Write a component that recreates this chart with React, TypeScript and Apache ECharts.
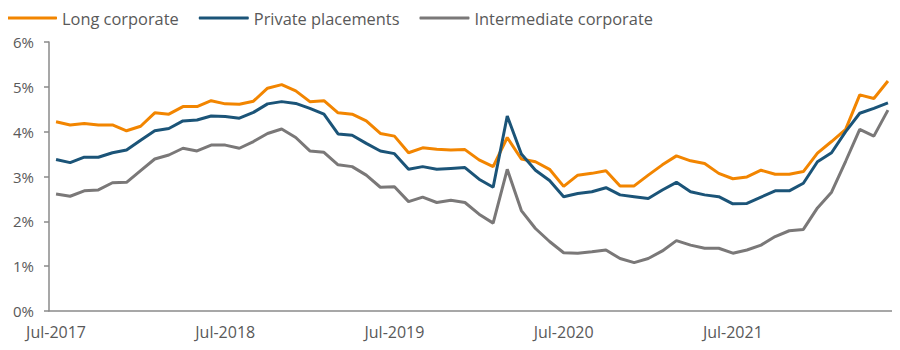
import React, { useEffect, useRef } from "react";
import * as echarts from "echarts";

const MONTHS = ["Jan", "Feb", "Mar", "Apr", "May", "Jun", "Jul", "Aug", "Sep", "Oct", "Nov", "Dec"];
// Monthly categories Jul-2017 .. Jun-2022
const categories: string[] = [];
for (let k = 0; k < 60; k++) {
  const m = (6 + k) % 12;
  const y = 2017 + Math.floor((6 + k) / 12);
  categories.push(`${MONTHS[m]}-${y}`);
}

const longCorporate = [
  4.22, 4.15, 4.18, 4.15, 4.15, 4.02, 4.12, 4.42, 4.39, 4.56, 4.56, 4.69,
  4.62, 4.61, 4.68, 4.97, 5.05, 4.91, 4.67, 4.69, 4.42, 4.39, 4.24, 3.96,
  3.9, 3.53, 3.64, 3.61, 3.59, 3.6, 3.37, 3.22, 3.87, 3.39, 3.33, 3.16,
  2.78, 3.03, 3.07, 3.13, 2.79, 2.79, 3.03, 3.26, 3.46, 3.35, 3.29, 3.07,
  2.95, 2.99, 3.14, 3.05, 3.05, 3.11, 3.52, 3.78, 4.05, 4.82, 4.74, 5.13,
];
const privatePlacements = [
  3.38, 3.31, 3.43, 3.43, 3.53, 3.59, 3.81, 4.02, 4.07, 4.24, 4.26, 4.35,
  4.34, 4.3, 4.43, 4.62, 4.67, 4.63, 4.52, 4.39, 3.95, 3.92, 3.74, 3.57,
  3.51, 3.16, 3.22, 3.16, 3.18, 3.2, 2.94, 2.76, 4.35, 3.5, 3.14, 2.91,
  2.55, 2.62, 2.66, 2.75, 2.59, 2.55, 2.51, 2.7, 2.87, 2.66, 2.59, 2.55,
  2.39, 2.4, 2.54, 2.68, 2.68, 2.85, 3.33, 3.53, 4.0, 4.41, 4.52, 4.64,
];
const intermediateCorporate = [
  2.61, 2.56, 2.68, 2.7, 2.86, 2.87, 3.13, 3.39, 3.48, 3.63, 3.57, 3.7,
  3.7, 3.63, 3.78, 3.96, 4.06, 3.87, 3.57, 3.54, 3.26, 3.22, 3.03, 2.76,
  2.77, 2.44, 2.54, 2.42, 2.47, 2.42, 2.16, 1.96, 3.16, 2.24, 1.84, 1.55,
  1.3, 1.29, 1.32, 1.36, 1.17, 1.08, 1.17, 1.34, 1.57, 1.47, 1.4, 1.4,
  1.29, 1.36, 1.47, 1.66, 1.79, 1.82, 2.3, 2.65, 3.34, 4.05, 3.9, 4.48,
];

const COLORS = ["#F28500", "#1B5478", "#7A7878"];
const FONT = "'Open Sans', Lato, sans-serif";
const TEXT = "#595959";

export default function App() {
  const ref = useRef<HTMLDivElement>(null);
  useEffect(() => {
    if (!ref.current) return;
    const chart = echarts.init(ref.current, undefined, { renderer: "svg" });
    const mk = (name: string, data: number[], color: string) => ({
      name,
      type: "line",
      data,
      symbol: "none",
      lineStyle: { width: 3, color },
      itemStyle: { color },
    });
    chart.setOption({
      animation: false,
      textStyle: { fontFamily: FONT },
      legend: {
        left: 7,
        top: 10,
        padding: 0,
        icon: "roundRect",
        itemWidth: 50,
        itemHeight: 3,
        itemGap: 20,
        textStyle: { fontSize: 16.4, color: TEXT, fontFamily: FONT },
      },
      grid: { left: 49, right: 5, top: 42, bottom: 39 },
      xAxis: {
        type: "category",
        data: categories,
        boundaryGap: true,
        axisLine: { show: true, lineStyle: { color: "#8a8a8a", width: 1.5 } },
        axisTick: { show: false },
        axisLabel: {
          interval: (i: number) => i % 12 === 0,
          color: TEXT,
          fontSize: 16,
          fontFamily: FONT,
          margin: 13,
        },
        splitLine: { show: false },
      },
      yAxis: {
        type: "value",
        min: 0,
        max: 6,
        interval: 1,
        axisLine: { show: true, lineStyle: { color: "#8a8a8a", width: 1.5 } },
        axisTick: { show: true, length: 5, lineStyle: { color: "#8a8a8a", width: 1.5 } },
        axisLabel: {
          formatter: "{value}%",
          color: TEXT,
          fontSize: 15,
          fontFamily: FONT,
          margin: 15,
        },
        splitLine: { show: false },
      },
      series: [
        mk("Long corporate", longCorporate, COLORS[0]),
        mk("Private placements", privatePlacements, COLORS[1]),
        mk("Intermediate corporate", intermediateCorporate, COLORS[2]),
      ],
    });
    return () => chart.dispose();
  }, []);
  return <div ref={ref} style={{ width: 900, height: 350, margin: "-8px 0 0 -8px" }} />;
}
